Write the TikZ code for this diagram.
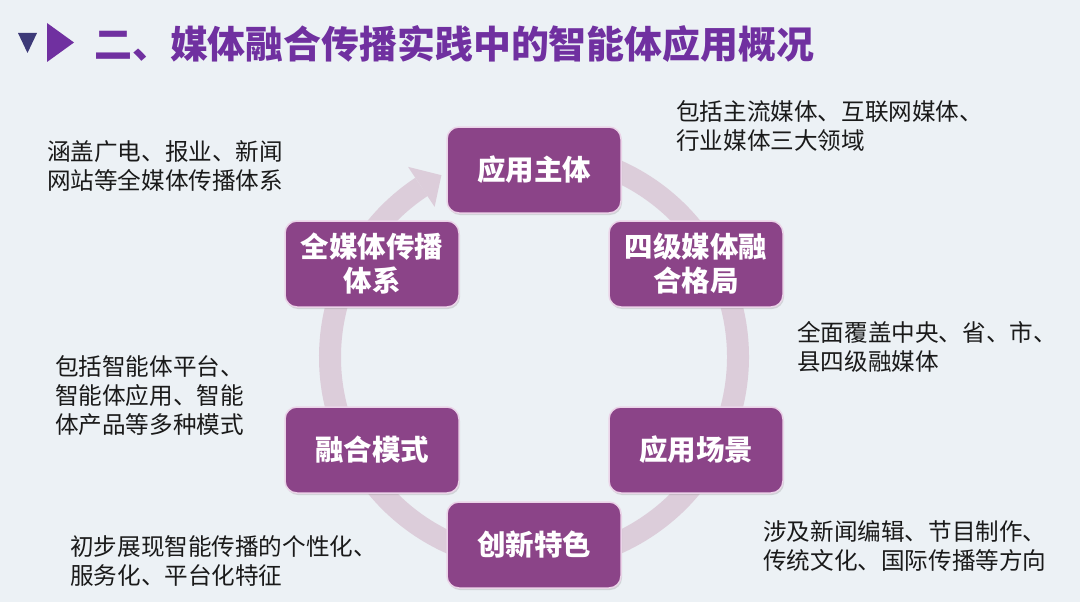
\documentclass[tikz,border=0pt]{standalone}
\usepackage{fontspec}
\setmainfont{Noto Sans CJK SC}
\usetikzlibrary{shadows}
\definecolor{bg}{HTML}{ECF1F5}
\definecolor{titlec}{HTML}{7030A0}
\definecolor{navy}{HTML}{3D3A78}
\definecolor{boxc}{HTML}{8B4488}
\definecolor{boxedge}{HTML}{EBD3E8}
\definecolor{ringc}{HTML}{DCCDDA}
\definecolor{txt}{HTML}{1A1A1A}
\tikzset{
  box/.style={rounded corners=12pt, minimum width=174pt, minimum height=86pt,
    fill=boxc, draw=boxedge, line width=1.5pt, text=white, align=center, inner sep=0pt,
    font=\bfseries\fontsize{28.5}{34}\selectfont,
    drop shadow={opacity=0.25, shadow xshift=1pt, shadow yshift=-2pt}},
  note/.style={anchor=north west, inner sep=0pt, align=left, text=txt,
    font=\fontsize{23.6}{29}\selectfont},
  ring/.style={draw=ringc, line width=22pt}
}
\begin{document}
\begin{tikzpicture}[x=1pt,y=-1pt]
\fill[bg] (0,0) rectangle (1080,602);
\useasboundingbox (0,0) rectangle (1080,602);
% title
\fill[navy] (18,33) -- (37,33) -- (27.5,53) -- cycle;
\fill[titlec] (47,23) -- (74,42.5) -- (47,62) -- cycle;
\node[anchor=west, inner sep=0pt, text=titlec, font=\bfseries\fontsize{37.9}{40}\selectfont] (title) at (94,44) {二、媒体融合传播实践中的智能体应用概况};
% ring
\coordinate (c) at (534,357);
\draw[ring] (c) ++(-123.5:204) arc[start angle=-123.5, end angle=-460, radius=204];
\fill[ringc] (408.1,166.9) -- (441.4,175.2) -- (434.6,206.9) -- cycle;
% boxes
\node[box] (zt) at (534,170) {应用主体};
\node[box] (sj) at (696,264) {四级媒体融\\合格局};
\node[box] (cj) at (696,450) {应用场景};
\node[box] (cx) at (534,545) {创新特色};
\node[box] (rh) at (372,450) {融合模式};
\node[box] (qm) at (372,264) {全媒体传播\\体系};
% notes
\node[note] (n1) at (47,140) {涵盖广电、报业、新闻\\网站等全媒体传播体系};
\node[note] (n2) at (676,100) {包括主流媒体、互联网媒体、\\行业媒体三大领域};
\node[note] (n3) at (797,321) {全面覆盖中央、省、市、\\县四级融媒体};
\node[note] (n4) at (55,355) {包括智能体平台、\\智能体应用、智能\\体产品等多种模式};
\node[note] (n5) at (70,535) {初步展现智能传播的个性化、\\服务化、平台化特征};
\node[note] (n6) at (763,520) {涉及新闻编辑、节目制作、\\传统文化、国际传播等方向};
\end{tikzpicture}
\end{document}
